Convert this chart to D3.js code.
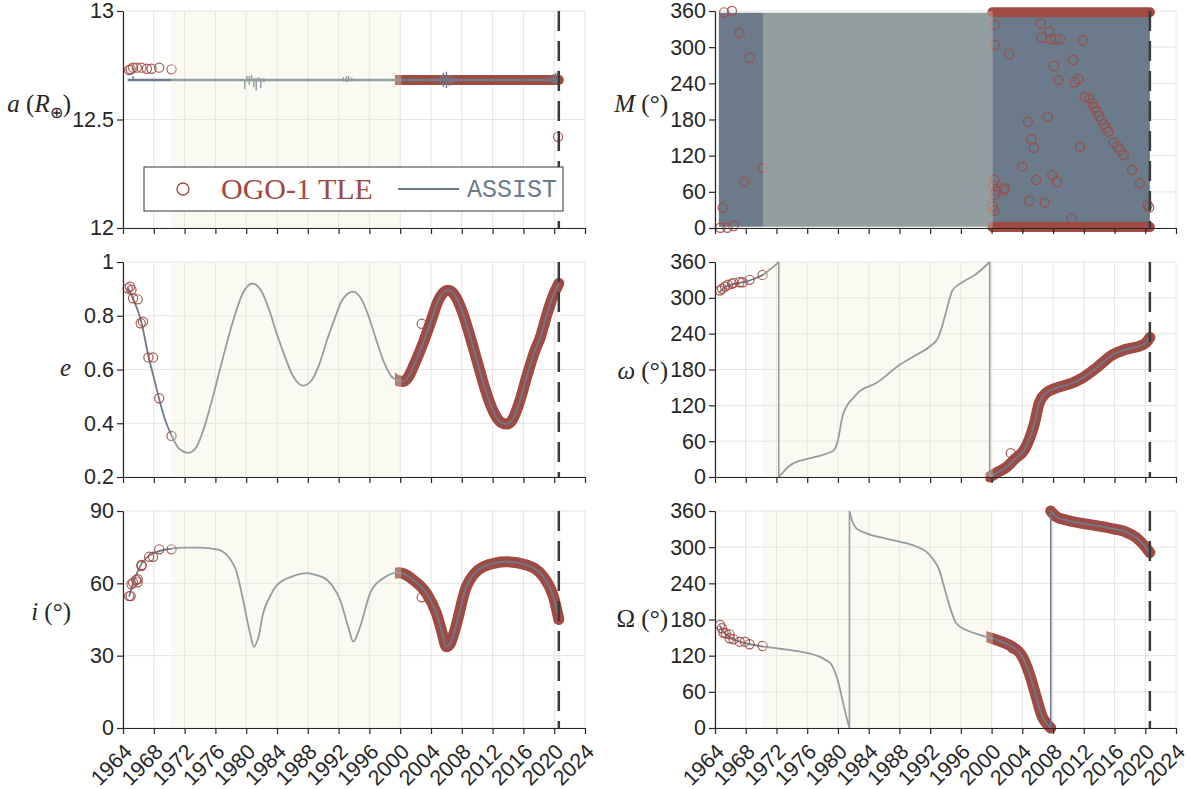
<!DOCTYPE html>
<meta charset="utf-8">
<style>
    body { margin: 0; background: #fff; }
    svg { display: block; }
    .axis path, .axis line { stroke: #262626; stroke-width: 1.2px; }
    .axis text { font-family: "Liberation Sans", Arial, sans-serif; font-size: 21.5px; fill: #262626; }
    .grid line { stroke: #e4e4e4; stroke-width: 1px; }
    .ylab { font-family: "Liberation Serif", serif; font-size: 25px; fill: #262626; }
</style>
<svg width="1190" height="789"></svg>
<script src="https://d3js.org/d3.v7.min.js"></script>
<script>
    // tick labels and special epochs
    var yearTicks = [1964, 1968, 1972, 1976, 1980, 1984, 1988, 1992, 1996, 2000, 2004, 2008, 2012, 2016, 2020, 2024];
    var shadeSpan = [1970.25, 2000.15];
    var epochYear = 2020.6;

    // semi-major axis (Earth radii)
    var assistA = [[1964.6, 12.682], [2020.6, 12.682]];
    var aSpikes = [
        [1965.3, 12.68, 12.70],
        [1979.8, 12.64, 12.685], [1980.1, 12.675, 12.70], [1980.4, 12.66, 12.70], [1980.7, 12.675, 12.705],
        [1981.0, 12.65, 12.69], [1981.3, 12.635, 12.69], [1981.6, 12.675, 12.695], [1981.9, 12.645, 12.69],
        [1982.3, 12.67, 12.69],
        [1992.6, 12.675, 12.695], [1993.0, 12.672, 12.70], [1993.3, 12.675, 12.70], [1993.7, 12.676, 12.693],
        [2005.2, 12.665, 12.70], [2005.6, 12.65, 12.715], [2006.0, 12.645, 12.72], [2006.4, 12.655, 12.705],
        [2006.8, 12.665, 12.70],
        [2019.5, 12.67, 12.70], [2019.9, 12.665, 12.71], [2020.2, 12.66, 12.715], [2020.5, 12.665, 12.725]
    ];
    var tleA = [[1964.8, 12.728], [1965.0, 12.731], [1965.3, 12.739], [1965.8, 12.739], [1966.4, 12.739],
        [1967.1, 12.734], [1967.7, 12.734], [1968.7, 12.739], [1970.3, 12.731], [2020.5, 12.42]];
    var tleDenseA = [[2000.1, 2020.6]];

    // eccentricity
    var assistE = [[1964.6, 0.905], [1965.3, 0.865], [1966.4, 0.775], [1967.3, 0.65], [1968.0, 0.57],
        [1968.7, 0.49], [1969.5, 0.41], [1970.3, 0.355], [1971.3, 0.305], [1972.5, 0.29], [1973.5, 0.31],
        [1974.5, 0.38], [1975.5, 0.48], [1976.5, 0.59], [1977.5, 0.70], [1978.5, 0.80], [1979.5, 0.88],
        [1980.8, 0.92], [1982, 0.89], [1983, 0.82], [1984, 0.73], [1985, 0.65], [1986, 0.58], [1987.4, 0.54],
        [1988.5, 0.56], [1989.5, 0.62], [1990.5, 0.71], [1991.5, 0.79], [1992.5, 0.86], [1993.9, 0.89],
        [1995, 0.86], [1996, 0.79], [1997, 0.70], [1998, 0.62], [1999, 0.57], [2000.3, 0.555], [2001, 0.57],
        [2002, 0.63], [2003, 0.70], [2004, 0.78], [2005, 0.86], [2006.2, 0.895], [2007, 0.88], [2008, 0.82],
        [2009, 0.73], [2010, 0.63], [2011, 0.53], [2012, 0.45], [2013, 0.405], [2013.8, 0.397], [2014.5, 0.41],
        [2015.5, 0.48], [2016.5, 0.58], [2017.5, 0.67], [2018.2, 0.72], [2019, 0.80], [2019.8, 0.87], [2020.6, 0.92]];
    var tleE = [[1964.6, 0.902], [1964.9, 0.908], [1965.1, 0.896], [1965.3, 0.865], [1965.9, 0.861],
        [1966.3, 0.772], [1966.6, 0.778], [1967.3, 0.645], [1967.9, 0.645], [1968.7, 0.493], [1970.3, 0.353],
        [2002.8, 0.77]];
    var tleDenseE = [[2000.1, 2017.7], [2017.9, 2018.6], [2019.1, 2020.6]];

    // inclination (deg)
    var assistI = [[1964.8, 54.5], [1965.3, 60], [1966.2, 66.9], [1967.5, 71.7], [1969.7, 74.1], [1971.8, 74.8],
        [1974, 74.8], [1976.2, 74.1], [1977.5, 71.7], [1978.8, 64.2], [1979.6, 53.1], [1980.5, 39.3], [1981.0, 33.7],
        [1981.6, 37.9], [1982.2, 47.6], [1983, 54], [1984.0, 59.3], [1986.1, 63.0], [1987.9, 64.2], [1989, 63.5],
        [1990.5, 61.4], [1991.5, 57.5], [1992.2, 53.1], [1993.3, 41.3], [1993.9, 35.8], [1994.8, 42.0],
        [1996.1, 55.9], [1997.8, 62.1], [1999.8, 64.4], [2000.2, 64.2], [2001.7, 61.4], [2003.4, 55.9],
        [2004.7, 47.6], [2005.4, 40], [2006.0, 33.7], [2006.5, 35], [2007.1, 40.6], [2008.6, 58.6], [2010.8, 66.9],
        [2013.8, 69.0], [2016.4, 67.6], [2018.6, 62.7], [2019.9, 54.5], [2020.6, 45]];
    var tleI = [[1964.8, 54.7], [1965.0, 54.7], [1965.1, 59.6], [1965.3, 60.3], [1965.7, 61.4], [1965.9, 60.4],
        [1965.9, 61.7], [1966.4, 67.6], [1966.4, 67.2], [1967.4, 71.0], [1967.9, 71.0], [1968.7, 74.1],
        [1970.3, 74.1], [2002.8, 54.2]];
    var tleDenseI = [[2000.1, 2018.9], [2019.1, 2020.6]];

    // mean anomaly (deg): the fast oscillation fills a band
    var mBand = [[1964.5, 2, 357], [2020.6, 2, 357]];
    var tleM = [[1965.2, 357.8], [1966.2, 360], [1967.2, 324], [1968.5, 282.5], [1967.8, 76.4], [1970.2, 99.7],
        [1965.0, 33.7], [1964.7, 0.5], [1965.6, 0.5], [1966.4, 3.3],
        [2000.4, 336.8], [2000.4, 303.6], [2000.4, 79.6], [2000.2, 71.3], [2000.4, 54.7], [2000.1, 35.3], [2000.4, 28.7],
        [2002.3, 288.7], [2006.4, 339.6], [2007.5, 325.7], [2006.5, 315.7], [2007.7, 313], [2008.3, 313], [2008.9, 313],
        [2011.9, 311.4], [2010.6, 278.7], [2008.1, 268.8], [2008.7, 245.5], [2010.8, 241.7], [2011.3, 246.7],
        [2012.1, 217.8], [2012.7, 215.2], [2013.1, 206.9], [2013.4, 200], [2013.7, 193], [2014.0, 186], [2014.3, 179],
        [2014.6, 172], [2014.9, 166], [2015.2, 159.8], [2015.9, 141.5], [2016.4, 134.9], [2016.7, 129.4],
        [2017.2, 121.1], [2018.3, 96.2], [2019.3, 74.2], [2020.3, 38.2], [2020.5, 34],
        [2004.7, 176.4], [2007.3, 184.6], [2005.2, 147.2], [2005.5, 133.2], [2011.5, 134.4], [2004.0, 101.7],
        [2007.9, 87.4], [2005.8, 79.6], [2008.5, 76.3], [2001.6, 63], [2001.7, 66], [2000.6, 62], [2004.9, 44.8],
        [2006.9, 42], [2010.4, 16.1]];
    var tleDenseM = [[[2000.1, 358], [2020.6, 358]], [[2000.1, 1.5], [2020.6, 1.5]]];

    // argument of perigee (deg), split where it wraps
    var assistW = [
        [[1964.6, 309.5], [1965.3, 318], [1966.2, 322.5], [1967.2, 325], [1968.5, 329], [1969.5, 334], [1970.2, 338],
            [1971, 346], [1971.7, 353], [1972.3, 360]],
        [[1972.3, 0], [1973.0, 10], [1973.7, 18.8], [1975.0, 27], [1975.9, 30], [1977.5, 35], [1978.9, 41],
            [1979.5, 45], [1980.0, 62], [1980.6, 101.8], [1981.2, 120], [1981.8, 129.6], [1982.8, 143.4],
            [1985.0, 157.3], [1988.0, 187.7], [1989.8, 201.4], [1991.9, 218], [1993.0, 232], [1993.5, 250],
            [1993.9, 268], [1994.4, 292], [1994.9, 312.3], [1996.2, 326.1], [1998.0, 340], [1999.75, 360]],
        [[1999.75, 0], [2000.5, 6], [2001.9, 16.1], [2003, 30], [2004.3, 46.5], [2004.9, 63], [2005.6, 90.9],
            [2006.2, 124], [2007.1, 140.7], [2008.4, 149], [2010.5, 157.3], [2011.8, 165.6], [2013.6, 182.2],
            [2015.7, 204.3], [2017.5, 213.8], [2019.6, 221], [2020.1, 225], [2020.6, 233.7]]
    ];
    var tleW = [[1964.65, 312.3], [1964.9, 315.1], [1965.3, 319], [1965.7, 321.8], [1966.2, 323.4], [1966.4, 325.1],
        [1967.2, 326.1], [1967.6, 326.1], [1968.5, 330.1], [1970.2, 338.4], [2002.5, 39.9]];
    var tleDenseW = [[2000.0, 2020.6]];

    // longitude of ascending node (deg), split where it wraps
    var assistO = [
        [[1964.6, 170], [1965.1, 160], [1965.9, 151], [1966.4, 147], [1967.2, 143.5], [1968.5, 139], [1970.3, 135],
            [1972.5, 131.5], [1975, 127], [1976.5, 123], [1977.6, 118.3], [1978.5, 112], [1979.2, 104.5],
            [1979.7, 90], [1980.2, 68.5], [1980.7, 40], [1981.1, 18.7], [1981.5, 0]],
        [[1981.5, 360], [1981.8, 345], [1982.4, 331], [1983.7, 322.9], [1986, 315], [1988, 309], [1990, 302],
            [1991.5, 292.5], [1992.5, 278], [1993.2, 262], [1993.8, 235], [1994.3, 212.3], [1994.9, 188],
            [1995.4, 173.7], [1996.7, 162.6], [1998.3, 155], [2000.1, 148.5], [2001.5, 142], [2002.7, 134.9],
            [2004.0, 118.3], [2004.9, 90.7], [2005.8, 51.9], [2006.6, 18.7], [2007.2, 7], [2007.7, 0]],
        [[2007.7, 360], [2008.5, 350], [2009.7, 345], [2012, 339], [2014, 335], [2016, 330], [2017.5, 325],
            [2018.8, 316], [2019.7, 305], [2020.3, 296], [2020.6, 291]]
    ];
    var tleO = [[1964.65, 170.9], [1964.9, 165.4], [1965.1, 158.1], [1965.4, 157.1], [1965.9, 155.4], [1965.9, 148.8],
        [1966.4, 147.1], [1967.2, 143.2], [1967.9, 143.2], [1968.5, 138.9], [1970.2, 136.0], [2002.7, 132.2]];
    var tleDenseO = [[2000.1, 2020.6]];

    var svg = d3.select('svg');
    var colX = [[123, 585], [715, 1176]];
    var rowY = [[11, 228], [262, 477], [511, 728]];
    var red = '#9f4a42';
    var slate = '#6c7b8b';
    var clipId = 0;

    function makePanel(col, row, yDomain, yTicks) {
        var x = d3.scaleLinear().domain([1964, 2024]).range(colX[col]);
        var y = d3.scaleLinear().domain(yDomain).range([rowY[row][1], rowY[row][0]]);
        var g = svg.append('g');
        var grid = g.append('g').attr('class', 'grid');
        grid.selectAll('.gx').data(yearTicks).join('line').attr('class', 'gx')
            .attr('x1', d => x(d)).attr('x2', d => x(d))
            .attr('y1', y.range()[0]).attr('y2', y.range()[1]);
        grid.selectAll('.gy').data(yTicks).join('line').attr('class', 'gy')
            .attr('x1', x.range()[0]).attr('x2', x.range()[1])
            .attr('y1', d => y(d)).attr('y2', d => y(d));
        return {x: x, y: y, g: g, col: col, row: row, yTicks: yTicks, marks: g.append('g')};
    }

    function lineOf(p) {
        return d3.line().x(d => p.x(d[0])).y(d => p.y(d[1])).curve(d3.curveMonotoneX);
    }

    function drawAssist(p, segments, width) {
        var line = lineOf(p);
        p.marks.append('g').selectAll('path').data(segments).join('path')
            .attr('d', line).attr('fill', 'none').attr('stroke', slate).attr('stroke-width', width || 1.8);
        // vertical jumps where the angle wraps
        var jumps = d3.pairs(segments).map(s => [s[0][s[0].length - 1], s[1][0]]);
        p.marks.append('g').selectAll('path').data(jumps).join('path')
            .attr('d', d3.line().x(d => p.x(d[0])).y(d => p.y(d[1])))
            .attr('stroke', slate).attr('stroke-width', 1.6);
    }

    // TLE fixes so dense they merge into a band along the fitted curve
    function drawDense(p, segments, spans, width) {
        var id = 'clip' + (clipId++);
        svg.append('defs').append('clipPath').attr('id', id)
            .selectAll('rect').data(spans).join('rect')
            .attr('x', d => p.x(d[0]) - 6).attr('width', d => p.x(d[1]) - p.x(d[0]) + 12)
            .attr('y', 0).attr('height', 789);
        var used = segments.filter(s => s[s.length - 1][0] >= spans[0][0]);
        p.marks.append('g').attr('clip-path', 'url(#' + id + ')')
            .selectAll('path').data(used).join('path')
            .attr('d', lineOf(p)).attr('fill', 'none').attr('stroke', red)
            .attr('stroke-width', width || 11).attr('stroke-linecap', 'round');
    }

    function drawCircles(p, pts) {
        p.marks.append('g').selectAll('circle').data(pts).join('circle')
            .attr('cx', d => p.x(d[0])).attr('cy', d => p.y(d[1])).attr('r', 4.6)
            .attr('fill', 'none').attr('stroke', red).attr('stroke-width', 1.2).attr('stroke-opacity', 0.9);
    }

    function finishPanel(p, labelParts, labelY) {
        var top = p.y.range()[1], bottom = p.y.range()[0];
        p.g.append('rect')
            .attr('x', p.x(shadeSpan[0])).attr('width', p.x(shadeSpan[1]) - p.x(shadeSpan[0]))
            .attr('y', top).attr('height', bottom - top)
            .attr('fill', 'rgb(240,240,212)').attr('fill-opacity', 0.3);
        p.g.append('line')
            .attr('x1', p.x(epochYear)).attr('x2', p.x(epochYear)).attr('y1', top).attr('y2', bottom)
            .attr('stroke', '#3a3a3a').attr('stroke-width', 2.5).attr('stroke-dasharray', '20,10');

        p.g.append('g').attr('class', 'axis')
            .attr('transform', 'translate(' + p.x.range()[0] + ',0)')
            .call(d3.axisLeft(p.y).tickValues(p.yTicks).tickSize(6).tickSizeOuter(0).tickPadding(3).tickFormat(d => String(d)));
        var xa = p.g.append('g').attr('class', 'axis')
            .attr('transform', 'translate(0,' + bottom + ')')
            .call(d3.axisBottom(p.x).tickValues(yearTicks).tickSize(6).tickSizeOuter(0)
                .tickFormat(p.row === 2 ? d3.format('d') : ''));
        xa.selectAll('text').attr('x', 0).attr('y', 0).attr('dy', 0)
            .attr('text-anchor', 'end').attr('transform', 'translate(10,25) rotate(-45)');

        var t = svg.append('text').attr('class', 'ylab').attr('text-anchor', 'end')
            .attr('x', p.col === 0 ? 71 : 668).attr('y', labelY);
        labelParts.forEach(function (part) {
            var s = t.append('tspan').text(part[0]);
            if (part[1]) s.attr('font-style', 'italic');
            if (part[2]) s.attr('font-size', '16px').attr('dy', 6);
            if (part[3]) s.attr('dy', -6);
        });
    }

    // a
    var pa = makePanel(0, 0, [12, 13], [12, 12.5, 13]);
    drawDense(pa, [assistA], tleDenseA, 10);
    drawAssist(pa, [assistA], 2.6);
    pa.marks.append('g').selectAll('line').data(aSpikes).join('line')
        .attr('x1', d => pa.x(d[0])).attr('x2', d => pa.x(d[0]))
        .attr('y1', d => pa.y(d[1])).attr('y2', d => pa.y(d[2]))
        .attr('stroke', slate).attr('stroke-width', 1.5);
    drawCircles(pa, tleA);
    finishPanel(pa, [['a', 1], [' (', 0], ['R', 1], ['\u2295', 0, 1], [')', 0, 0, 1]], 112);

    // e
    var pe = makePanel(0, 1, [0.2, 1], [0.2, 0.4, 0.6, 0.8, 1]);
    drawDense(pe, [assistE], tleDenseE);
    drawAssist(pe, [assistE]);
    drawCircles(pe, tleE);
    finishPanel(pe, [['e', 1]], 376);

    // i
    var pi = makePanel(0, 2, [0, 90], [0, 30, 60, 90]);
    drawDense(pi, [assistI], tleDenseI);
    drawAssist(pi, [assistI]);
    drawCircles(pi, tleI);
    finishPanel(pi, [['i', 1], [' (\u00b0)', 0]], 620);

    // M
    var pm = makePanel(1, 0, [0, 360], [0, 60, 120, 180, 240, 300, 360]);
    pm.marks.append('path').datum(mBand)
        .attr('d', d3.area().x(d => pm.x(d[0])).y0(d => pm.y(d[1])).y1(d => pm.y(d[2])))
        .attr('fill', slate);
    pm.marks.append('g').selectAll('path').data(tleDenseM).join('path')
        .attr('d', d3.line().x(d => pm.x(d[0])).y(d => pm.y(d[1])))
        .attr('stroke', red).attr('stroke-width', 10).attr('stroke-linecap', 'round');
    drawCircles(pm, tleM);
    finishPanel(pm, [['M', 1], [' (\u00b0)', 0]], 112);

    // omega
    var pw = makePanel(1, 1, [0, 360], [0, 60, 120, 180, 240, 300, 360]);
    drawDense(pw, assistW, tleDenseW);
    drawAssist(pw, assistW);
    drawCircles(pw, tleW);
    finishPanel(pw, [['\u03c9', 1], [' (\u00b0)', 0]], 379);

    // Omega
    var po = makePanel(1, 2, [0, 360], [0, 60, 120, 180, 240, 300, 360]);
    drawDense(po, assistO, tleDenseO);
    drawAssist(po, assistO);
    drawCircles(po, tleO);
    finishPanel(po, [['\u03a9', 0], [' (\u00b0)', 0]], 627);

    // legend
    var lg = svg.append('g');
    lg.append('rect').attr('x', 144).attr('y', 167).attr('width', 419).attr('height', 44)
        .attr('fill', '#fff').attr('stroke', '#333').attr('stroke-width', 1);
    lg.append('circle').attr('cx', 183).attr('cy', 189).attr('r', 6)
        .attr('fill', 'none').attr('stroke', red).attr('stroke-width', 1.3);
    lg.append('text').attr('x', 221).attr('y', 199).text('OGO-1 TLE')
        .attr('font-family', '"Liberation Serif", serif').attr('font-size', 30).attr('fill', red);
    lg.append('line').attr('x1', 398).attr('x2', 459).attr('y1', 189).attr('y2', 189)
        .attr('stroke', slate).attr('stroke-width', 2);
    lg.append('text').attr('x', 467).attr('y', 197).text('ASSIST')
        .attr('font-family', '"Liberation Mono", monospace').attr('font-size', 25).attr('fill', slate);
</script>
